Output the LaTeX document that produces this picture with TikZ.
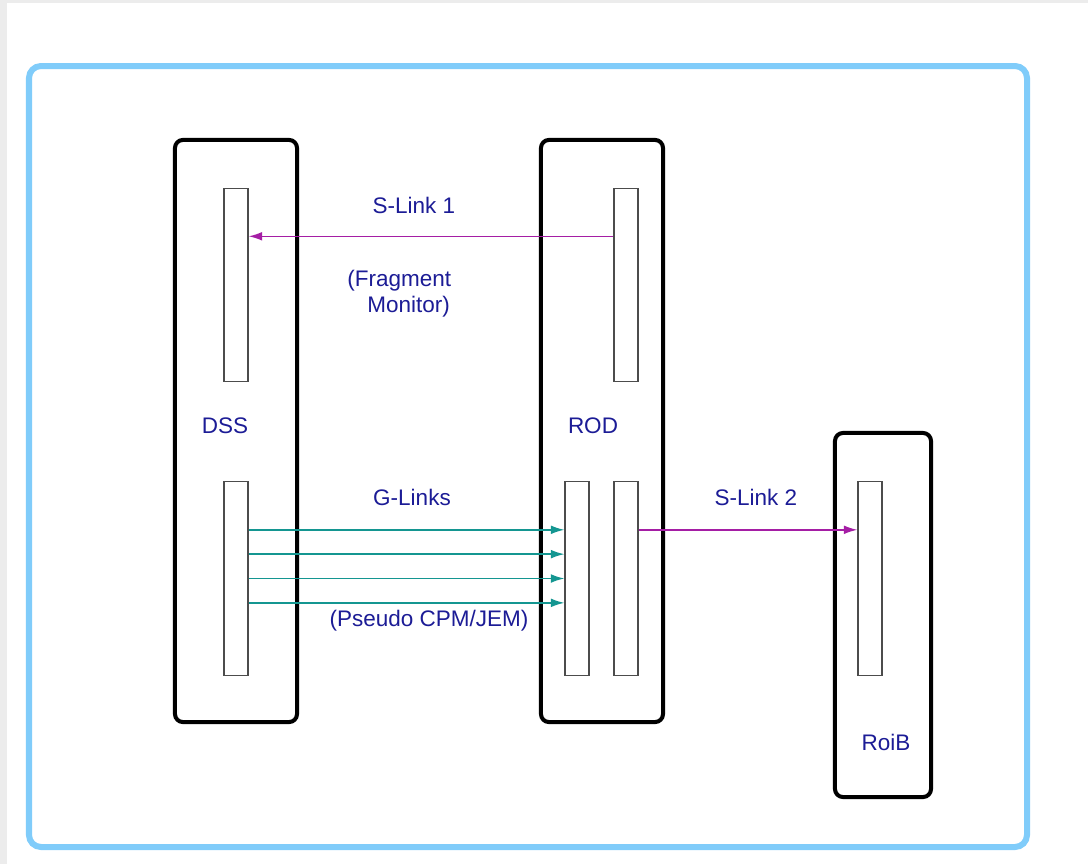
\documentclass[tikz,border=0pt]{standalone}
\usepackage{fontspec}
\setmainfont{Liberation Sans}
\usepackage{xcolor}
\usetikzlibrary{positioning, arrows.meta, calc}

\definecolor{frameblue}{RGB}{128,204,250}
\definecolor{labelblue}{RGB}{28,28,150}
\definecolor{slinkmag}{RGB}{165,30,165}
\definecolor{glinkteal}{RGB}{20,150,145}
\definecolor{pagegray}{RGB}{236,236,236}

\tikzset{
  crate/.style={draw=black, line width=0.1cm, rounded corners=0.2cm,
    minimum width=3.05cm, minimum height=14.55cm, inner sep=0pt},
  card/.style={draw=black!70, line width=0.8pt, fill=white,
    minimum width=0.6cm, minimum height=4.84cm, inner sep=0pt},
  lbl/.style={text=labelblue, font=\fontsize{16}{18.4}\selectfont,
    inner sep=0pt, anchor=base},
  slink/.style={slinkmag, line width=1.1pt, -{Latex[length=0.34cm, width=0.22cm]}},
  glink/.style={glinkteal, line width=1.1pt, -{Latex[length=0.34cm, width=0.22cm]}},
}

\begin{document}
\begin{tikzpicture}[x=0.025cm, y=-0.025cm]
  % ── page and frame ──
  \fill[pagegray] (0,0) rectangle (1088,864);
  \fill[white] (7,3) rectangle (1088,864);
  \useasboundingbox (0,0) rectangle (1088,864);
  \draw[frameblue, line width=0.15cm, rounded corners=0.3cm] (29,66) rectangle (1027,847);

  % ── crates ──
  \node[crate] (dss) at (236,431) {};
  \node[crate] (rod) at (602,431) {};
  \node[crate, minimum width=2.4cm, minimum height=9.1cm] (roib) at (883,615) {};

  % ── cards ──
  \node[card] (dsstop) at (236,285) {};
  \node[card] (dssbot) at (236,578.5) {};
  \node[card] (rodtop) at (626,285) {};
  \node[card] (rodcpm) at (577,578.5) {};
  \node[card] (rodsl)  at (626,578.5) {};
  \node[card] (roibin) at (870,578.5) {};

  % ── S-Link 1 ──
  \draw[slink] ($(rodtop.north west)!0.25!(rodtop.south west)$)
    -- ($(dsstop.north east)!0.25!(dsstop.south east)$);

  % ── G-Links ──
  \foreach \f in {0.25,0.375,0.5,0.625} {
    \draw[glink] ($(dssbot.north east)!\f!(dssbot.south east)$)
      -- ($(rodcpm.north west)!\f!(rodcpm.south west)$);
  }

  % ── S-Link 2 ──
  \draw[slink] ($(rodsl.north east)!0.25!(rodsl.south east)$)
    -- ($(roibin.north west)!0.25!(roibin.south west)$);

  % ── labels ──
  \node[lbl] (sl1lbl) at (414,213) {S-Link 1};
  \node[lbl, anchor=north west, align=left] (fraglbl) at (347,270)
    {(Fragment\\\hspace*{0.5cm}Monitor)};
  \node[lbl] (dsslbl) at (225,433) {DSS};
  \node[lbl] (rodlbl) at (593,433) {ROD};
  \node[lbl] (gllbl) at (412,505) {G-Links};
  \node[lbl] (pslbl) at (429,626) {(Pseudo CPM/JEM)};
  \node[lbl] (sl2lbl) at (756,505) {S-Link 2};
  \node[lbl] (roiblbl) at (886,750) {RoiB};
\end{tikzpicture}
\end{document}
